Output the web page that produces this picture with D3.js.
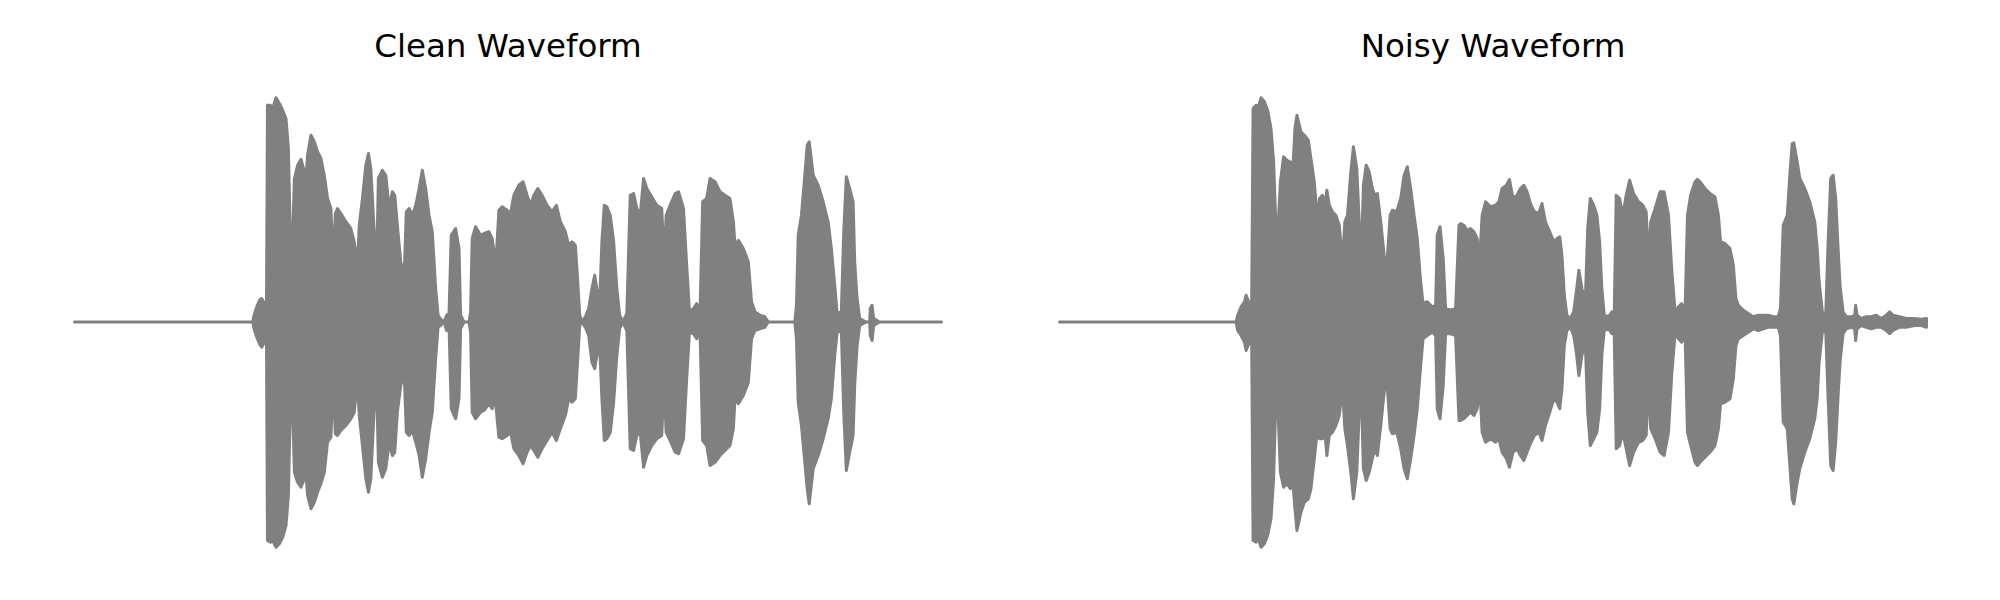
<!DOCTYPE html>
<html>
<head>
<meta charset="utf-8">
<script src="https://cdn.jsdelivr.net/npm/d3@7"></script>
<style>
  html, body { margin: 0; padding: 0; background: #ffffff; }
  svg { display: block; }
</style>
</head>
<body>
<svg id="chart" width="2000" height="600"></svg>
<script>
// Panel titles
const titles = ["Clean Waveform", "Noisy Waveform"];

// Envelope of each waveform: [time (s), upper peak amplitude, lower peak amplitude (magnitude)]
const cleanEnvelope = [
  [0.000, 0, 0], [0.893, 0, 0], [0.898, 0.021, 0.021], [0.910, 0.054, 0.054], [0.927, 0.087, 0.087],
  [0.938, 0.094, 0.101], [0.952, 0.074, 0.081], [0.962, 0.027, 0.041], [0.967, 0.867, 0.874],
  [0.982, 0.867, 0.881], [0.993, 0.854, 0.874], [1.010, 0.897, 0.901], [1.027, 0.874, 0.887],
  [1.043, 0.847, 0.861], [1.060, 0.814, 0.814], [1.072, 0.694, 0.694], [1.082, 0.321, 0.327],
  [1.093, 0.334, 0.347], [1.102, 0.574, 0.601], [1.118, 0.627, 0.641], [1.135, 0.651, 0.661],
  [1.152, 0.601, 0.627], [1.160, 0.574, 0.607], [1.168, 0.667, 0.694], [1.185, 0.747, 0.747],
  [1.202, 0.721, 0.721], [1.218, 0.681, 0.681], [1.235, 0.654, 0.647], [1.252, 0.587, 0.601],
  [1.268, 0.494, 0.481], [1.285, 0.454, 0.461], [1.297, 0.241, 0.241], [1.307, 0.434, 0.447],
  [1.318, 0.454, 0.454], [1.335, 0.434, 0.434], [1.360, 0.401, 0.414], [1.385, 0.374, 0.387],
  [1.402, 0.321, 0.361], [1.418, 0.227, 0.234], [1.427, 0.387, 0.374], [1.443, 0.494, 0.494],
  [1.460, 0.627, 0.627], [1.473, 0.674, 0.681], [1.485, 0.614, 0.627], [1.502, 0.361, 0.347],
  [1.515, 0.267, 0.281], [1.523, 0.574, 0.561], [1.543, 0.607, 0.621], [1.560, 0.587, 0.587],
  [1.577, 0.454, 0.481], [1.593, 0.521, 0.534], [1.605, 0.507, 0.521], [1.618, 0.387, 0.361],
  [1.635, 0.241, 0.254], [1.652, 0.187, 0.201], [1.663, 0.441, 0.441], [1.677, 0.454, 0.454],
  [1.693, 0.427, 0.434], [1.710, 0.467, 0.481], [1.727, 0.534, 0.534], [1.743, 0.607, 0.621],
  [1.760, 0.534, 0.547], [1.777, 0.427, 0.441], [1.793, 0.361, 0.361], [1.810, 0.134, 0.147],
  [1.822, 0.027, 0.021], [1.835, 0.011, 0.014], [1.852, 0, 0], [1.865, 0.027, 0.034],
  [1.877, 0.034, 0.021], [1.888, 0.347, 0.347], [1.910, 0.374, 0.387], [1.927, 0.294, 0.307],
  [1.935, 0.027, 0.027], [1.952, 0, 0], [1.977, 0, 0], [1.985, 0.041, 0.041], [1.993, 0.334, 0.361],
  [2.010, 0.381, 0.387], [2.035, 0.347, 0.361], [2.052, 0.354, 0.354], [2.077, 0.361, 0.327],
  [2.093, 0.334, 0.347], [2.105, 0.267, 0.294], [2.115, 0.281, 0.361], [2.127, 0.447, 0.461],
  [2.143, 0.461, 0.467], [2.168, 0.447, 0.454], [2.185, 0.434, 0.441], [2.202, 0.507, 0.507],
  [2.227, 0.547, 0.534], [2.248, 0.561, 0.567], [2.268, 0.507, 0.521], [2.285, 0.467, 0.494],
  [2.302, 0.507, 0.514], [2.322, 0.534, 0.541], [2.343, 0.507, 0.507], [2.368, 0.467, 0.474],
  [2.393, 0.441, 0.441], [2.415, 0.467, 0.474], [2.435, 0.401, 0.427], [2.460, 0.361, 0.374],
  [2.477, 0.307, 0.307], [2.493, 0.321, 0.321], [2.510, 0.307, 0.307], [2.522, 0.161, 0.147],
  [2.532, 0.027, 0.014], [2.543, 0, 0], [2.560, 0.021, 0.021], [2.577, 0.054, 0.054],
  [2.593, 0.134, 0.161], [2.607, 0.187, 0.187], [2.618, 0.134, 0.134], [2.632, 0.081, 0.094],
  [2.643, 0.321, 0.307], [2.655, 0.467, 0.474], [2.668, 0.461, 0.467], [2.685, 0.427, 0.441],
  [2.702, 0.321, 0.321], [2.718, 0.134, 0.134], [2.732, 0.027, 0.027], [2.748, 0, 0],
  [2.768, 0.034, 0.034], [2.785, 0.507, 0.507], [2.802, 0.514, 0.514], [2.818, 0.454, 0.454],
  [2.835, 0.427, 0.441], [2.852, 0.574, 0.581], [2.868, 0.534, 0.534], [2.893, 0.501, 0.494],
  [2.918, 0.467, 0.467], [2.943, 0.454, 0.454], [2.955, 0.241, 0.241], [2.965, 0.427, 0.441],
  [2.985, 0.467, 0.474], [3.010, 0.514, 0.521], [3.027, 0.521, 0.527], [3.052, 0.454, 0.467],
  [3.068, 0.227, 0.227], [3.082, 0.041, 0.041], [3.102, 0.054, 0.047], [3.118, 0.074, 0.067],
  [3.135, 0.041, 0.041], [3.148, 0.481, 0.474], [3.168, 0.494, 0.494], [3.185, 0.574, 0.574],
  [3.210, 0.561, 0.561], [3.235, 0.521, 0.534], [3.260, 0.507, 0.514], [3.285, 0.494, 0.494],
  [3.302, 0.401, 0.427], [3.310, 0.307, 0.307], [3.327, 0.327, 0.327], [3.352, 0.294, 0.294],
  [3.377, 0.241, 0.241], [3.393, 0.081, 0.067], [3.410, 0.041, 0.034], [3.435, 0.027, 0.027],
  [3.460, 0.021, 0.021], [3.477, 0, 0], [3.610, 0, 0], [3.618, 0.067, 0.067], [3.627, 0.347, 0.321],
  [3.643, 0.427, 0.414], [3.660, 0.587, 0.561], [3.672, 0.707, 0.667], [3.682, 0.721, 0.727],
  [3.702, 0.587, 0.587], [3.727, 0.547, 0.534], [3.752, 0.481, 0.467], [3.777, 0.401, 0.387],
  [3.793, 0.294, 0.307], [3.810, 0.147, 0.134], [3.822, 0.034, 0.041], [3.843, 0.041, 0.034],
  [3.855, 0.361, 0.361], [3.868, 0.581, 0.594], [3.885, 0.534, 0.521], [3.902, 0.481, 0.454],
  [3.910, 0.241, 0.254], [3.922, 0.094, 0.094], [3.935, 0.014, 0.014], [3.968, 0, 0],
  [3.985, 0, 0], [3.988, 0.054, 0.054], [3.997, 0.067, 0.074], [4.005, 0.014, 0.014],
  [4.035, 0, 0], [4.345, 0, 0]
];

const noisyEnvelope = [
  [0.000, 0, 0], [0.885, 0, 0], [0.893, 0.027, 0.034], [0.910, 0.061, 0.054], [0.927, 0.081, 0.081],
  [0.935, 0.107, 0.114], [0.952, 0.074, 0.081], [0.963, 0.067, 0.067], [0.970, 0.854, 0.874],
  [0.985, 0.867, 0.881], [0.997, 0.861, 0.867], [1.010, 0.897, 0.901], [1.027, 0.881, 0.887],
  [1.043, 0.847, 0.854], [1.060, 0.774, 0.787], [1.073, 0.641, 0.627], [1.085, 0.374, 0.294],
  [1.093, 0.347, 0.307], [1.107, 0.561, 0.601], [1.123, 0.661, 0.661], [1.140, 0.647, 0.647],
  [1.157, 0.641, 0.667], [1.168, 0.587, 0.627], [1.180, 0.774, 0.747], [1.190, 0.827, 0.834],
  [1.210, 0.761, 0.761], [1.227, 0.747, 0.721], [1.247, 0.727, 0.707], [1.260, 0.654, 0.667],
  [1.277, 0.561, 0.547], [1.293, 0.401, 0.427], [1.303, 0.494, 0.467], [1.318, 0.507, 0.467],
  [1.330, 0.467, 0.441], [1.340, 0.527, 0.534], [1.352, 0.467, 0.454], [1.368, 0.441, 0.441],
  [1.385, 0.427, 0.414], [1.402, 0.387, 0.374], [1.418, 0.241, 0.267], [1.430, 0.401, 0.427],
  [1.443, 0.427, 0.494], [1.460, 0.601, 0.601], [1.473, 0.701, 0.707], [1.490, 0.614, 0.601],
  [1.502, 0.401, 0.361], [1.513, 0.267, 0.281], [1.523, 0.547, 0.587], [1.537, 0.627, 0.634],
  [1.552, 0.601, 0.601], [1.568, 0.534, 0.547], [1.580, 0.507, 0.507], [1.593, 0.514, 0.534],
  [1.610, 0.401, 0.414], [1.627, 0.267, 0.281], [1.640, 0.221, 0.227], [1.657, 0.427, 0.427],
  [1.668, 0.447, 0.447], [1.690, 0.441, 0.441], [1.710, 0.494, 0.507], [1.727, 0.587, 0.587],
  [1.743, 0.621, 0.627], [1.760, 0.534, 0.547], [1.777, 0.427, 0.454], [1.793, 0.334, 0.347],
  [1.810, 0.161, 0.174], [1.822, 0.074, 0.067], [1.843, 0.081, 0.054], [1.868, 0.061, 0.041],
  [1.885, 0.067, 0.054], [1.893, 0.347, 0.347], [1.907, 0.381, 0.387], [1.923, 0.254, 0.254],
  [1.935, 0.054, 0.047], [1.960, 0.047, 0.047], [1.985, 0.054, 0.054], [2.002, 0.387, 0.394],
  [2.010, 0.394, 0.394], [2.027, 0.387, 0.387], [2.043, 0.367, 0.374], [2.060, 0.374, 0.361],
  [2.077, 0.361, 0.374], [2.093, 0.334, 0.347], [2.107, 0.267, 0.267], [2.118, 0.427, 0.441],
  [2.135, 0.481, 0.481], [2.160, 0.461, 0.467], [2.185, 0.467, 0.481], [2.202, 0.481, 0.467],
  [2.218, 0.534, 0.521], [2.240, 0.547, 0.547], [2.255, 0.570, 0.581], [2.273, 0.494, 0.521],
  [2.293, 0.507, 0.507], [2.310, 0.534, 0.534], [2.327, 0.547, 0.554], [2.343, 0.521, 0.521],
  [2.363, 0.467, 0.481], [2.380, 0.441, 0.454], [2.402, 0.434, 0.441], [2.418, 0.474, 0.474],
  [2.435, 0.401, 0.414], [2.457, 0.361, 0.361], [2.477, 0.321, 0.307], [2.493, 0.334, 0.321],
  [2.507, 0.341, 0.347], [2.518, 0.267, 0.267], [2.530, 0.107, 0.094], [2.543, 0.027, 0.034],
  [2.560, 0.014, 0.021], [2.577, 0.041, 0.054], [2.590, 0.121, 0.121], [2.603, 0.207, 0.214],
  [2.618, 0.134, 0.134], [2.635, 0.081, 0.081], [2.647, 0.374, 0.361], [2.660, 0.494, 0.494],
  [2.677, 0.467, 0.467], [2.693, 0.427, 0.441], [2.707, 0.321, 0.347], [2.718, 0.134, 0.134],
  [2.730, 0.027, 0.034], [2.752, 0.021, 0.027], [2.768, 0.041, 0.047], [2.780, 0.027, 0.047],
  [2.790, 0.507, 0.507], [2.807, 0.494, 0.494], [2.823, 0.427, 0.441], [2.840, 0.507, 0.507],
  [2.857, 0.567, 0.574], [2.877, 0.514, 0.521], [2.902, 0.481, 0.481], [2.923, 0.467, 0.474],
  [2.940, 0.441, 0.454], [2.953, 0.241, 0.241], [2.963, 0.401, 0.427], [2.985, 0.454, 0.467],
  [3.010, 0.521, 0.521], [3.030, 0.521, 0.534], [3.052, 0.427, 0.441], [3.068, 0.214, 0.214],
  [3.085, 0.041, 0.047], [3.102, 0.061, 0.067], [3.118, 0.074, 0.081], [3.135, 0.041, 0.047],
  [3.147, 0.427, 0.441], [3.163, 0.507, 0.494], [3.185, 0.561, 0.561], [3.197, 0.571, 0.574],
  [3.210, 0.561, 0.561], [3.235, 0.534, 0.541], [3.260, 0.514, 0.521], [3.285, 0.501, 0.494],
  [3.302, 0.427, 0.427], [3.313, 0.321, 0.327], [3.335, 0.314, 0.321], [3.360, 0.294, 0.307],
  [3.377, 0.227, 0.227], [3.390, 0.094, 0.094], [3.402, 0.067, 0.067], [3.427, 0.047, 0.054],
  [3.452, 0.034, 0.041], [3.477, 0.021, 0.027], [3.502, 0.027, 0.034], [3.527, 0.027, 0.027],
  [3.552, 0.027, 0.021], [3.577, 0.021, 0.021], [3.602, 0.021, 0.021], [3.613, 0.054, 0.054],
  [3.627, 0.387, 0.401], [3.647, 0.427, 0.427], [3.660, 0.587, 0.574], [3.672, 0.714, 0.707],
  [3.680, 0.717, 0.727], [3.697, 0.641, 0.641], [3.710, 0.574, 0.587], [3.735, 0.534, 0.521],
  [3.760, 0.481, 0.467], [3.785, 0.401, 0.387], [3.797, 0.294, 0.307], [3.807, 0.161, 0.161],
  [3.823, 0.041, 0.041], [3.840, 0.027, 0.034], [3.852, 0.321, 0.307], [3.865, 0.574, 0.574],
  [3.877, 0.587, 0.594], [3.890, 0.494, 0.481], [3.902, 0.294, 0.294], [3.913, 0.134, 0.147],
  [3.927, 0.041, 0.047], [3.943, 0.021, 0.027], [3.968, 0.021, 0.021], [3.985, 0.027, 0.027],
  [3.990, 0.067, 0.074], [3.997, 0.027, 0.027], [4.018, 0.014, 0.014], [4.043, 0.021, 0.021],
  [4.068, 0.021, 0.027], [4.093, 0.027, 0.021], [4.118, 0.014, 0.021], [4.143, 0.027, 0.034],
  [4.160, 0.041, 0.047], [4.177, 0.027, 0.034], [4.210, 0.021, 0.021], [4.243, 0.014, 0.021],
  [4.285, 0.014, 0.014], [4.318, 0.011, 0.014], [4.345, 0.014, 0.021]
];

const series = [cleanEnvelope, noisyEnvelope];

// ---- drawing ----
const svg = d3.select("#chart");
const panelLeft = [74.5, 1059.5];
const panelWidth = 867;
const centerY = 322;
const halfHeight = 250;
const duration = 4.345;

const x = d3.scaleLinear().domain([0, duration]).range([0, panelWidth]);
const y = d3.scaleLinear().domain([-1, 1]).range([halfHeight, -halfHeight]);

const area = d3.area()
  .x(d => x(d[0]))
  .y0(d => y(-d[2]))
  .y1(d => y(d[1]))
  .curve(d3.curveLinear);

series.forEach((env, i) => {
  const g = svg.append("g").attr("transform", `translate(${panelLeft[i]},${centerY})`);
  g.append("path")
    .datum(env)
    .attr("d", area)
    .attr("fill", "#808080")
    .attr("stroke", "#808080")
    .attr("stroke-width", 3)
    .attr("stroke-linejoin", "round")
    .attr("stroke-linecap", "round");

  svg.append("text")
    .attr("x", panelLeft[i] + panelWidth / 2)
    .attr("y", 57)
    .attr("text-anchor", "middle")
    .attr("font-family", "'DejaVu Sans', sans-serif")
    .attr("font-size", "32.5px")
    .attr("fill", "#000000")
    .text(titles[i]);
});
</script>
</body>
</html>
